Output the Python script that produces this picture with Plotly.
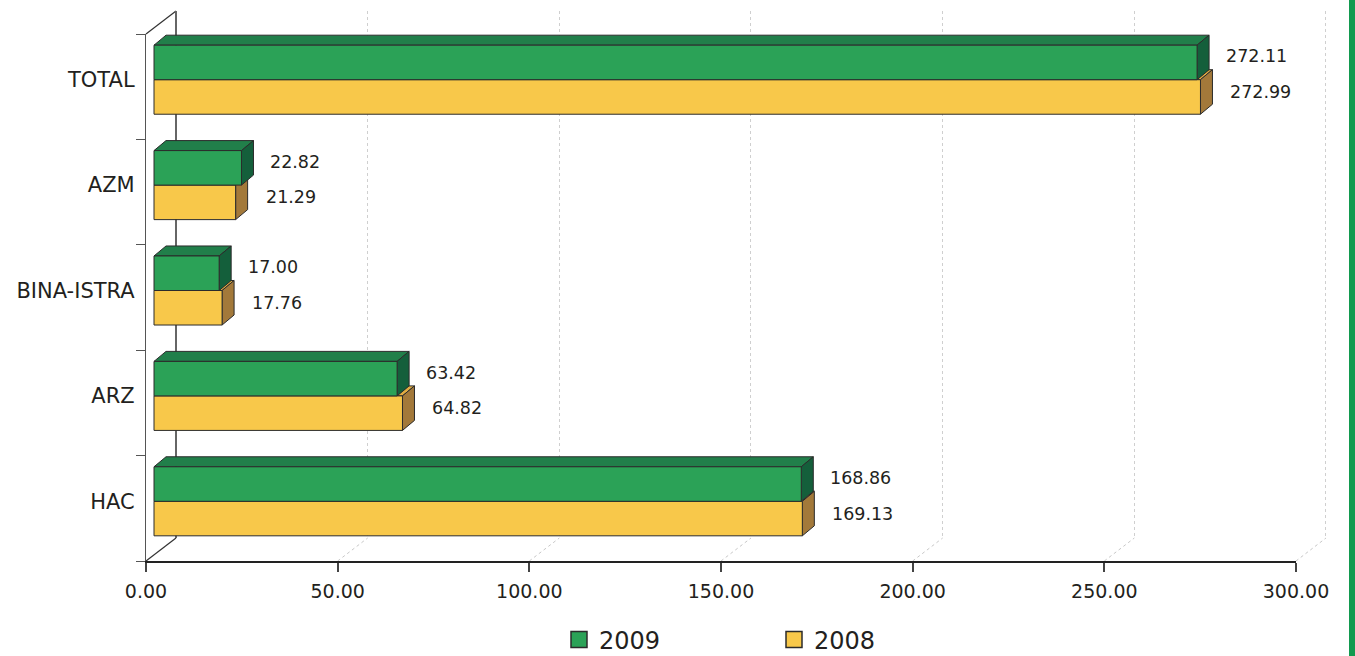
import plotly.graph_objects as go

# ---------------- data ----------------
categories = ["HAC", "ARZ", "BINA-ISTRA", "AZM", "TOTAL"]   # bottom -> top
values_2009 = [168.86, 63.42, 17.00, 22.82, 272.11]
values_2008 = [169.13, 64.82, 17.76, 21.29, 272.99]
series_names = ["2009", "2008"]
x_ticks = [0, 50, 100, 150, 200, 250, 300]

# ---------------- geometry (pixels) ----------------
W, H = 1355, 656
def px(x): return x / W
def py(y): return 1 - y / H

FX0, FX1 = 146, 1296          # front plane x for 0 and 300
FY0, FY1 = 34, 561            # front plane top / bottom
BACK_DX, BACK_DY = 30, 23     # back wall offset
BAR_DX, BAR_DY = 8, 7         # bar plane offset
DEP_DX, DEP_DY = 12, 10       # bar thickness

XMAX = x_ticks[-1]
YMIN, YMAX = -0.5, len(categories) - 0.5
ux = (FX1 - FX0) / XMAX
uy = (FY1 - FY0) / (YMAX - YMIN)
ddx = DEP_DX / ux
ddy = DEP_DY / uy
bw = 0.3275

GREEN, GREEN_TOP, GREEN_SIDE = "#2ba257", "#217f4a", "#145f3b"
YELLOW, YELLOW_TOP, YELLOW_SIDE = "#f8c84a", "#e0ac42", "#a3793a"
EDGE = "#2b2b2b"
FONT = "DejaVu Sans"
TXT = "#231f20"

fig = go.Figure()

# empty traces so that the back-wall and front-axis subplots are created
fig.add_trace(go.Scatter(x=[], y=[], xaxis="x", yaxis="y", showlegend=False, hoverinfo="skip"))
fig.add_trace(go.Scatter(x=[], y=[], xaxis="x2", yaxis="y2", showlegend=False, hoverinfo="skip"))

# ---------- 3D faces (top / side) on x3y3 ----------
def faces(vals, lo, hi):
    tx, ty, sx, sy = [], [], [], []
    for i, v in enumerate(vals):
        yb, yt = i + lo, i + hi
        tx += [0, v, v + ddx, ddx, 0, None]
        ty += [yt, yt, yt + ddy, yt + ddy, yt, None]
        sx += [v, v + ddx, v + ddx, v, v, None]
        sy += [yb, yb + ddy, yt + ddy, yt, yb, None]
    return tx, ty, sx, sy

ytx, yty, ysx, ysy = faces(values_2008, -bw, 0)
gtx, gty, gsx, gsy = faces(values_2009, 0, bw)
for fx, fy, col in [(ytx, yty, YELLOW_TOP), (ysx, ysy, YELLOW_SIDE),
                    (gtx, gty, GREEN_TOP), (gsx, gsy, GREEN_SIDE)]:
    fig.add_trace(go.Scatter(x=fx, y=fy, mode="lines", fill="toself", fillcolor=col,
                             line=dict(color=EDGE, width=1), hoverinfo="skip",
                             showlegend=False, xaxis="x3", yaxis="y3"))

# ---------- front faces: bars on x4y4 ----------
pos = list(range(len(categories)))
fig.add_trace(go.Bar(x=values_2008, y=pos, orientation="h", width=bw, offset=-bw,
                     marker=dict(color=YELLOW, line=dict(color=EDGE, width=1)),
                     name=series_names[1], showlegend=False, xaxis="x4", yaxis="y4"))
fig.add_trace(go.Bar(x=values_2009, y=pos, orientation="h", width=bw, offset=0,
                     marker=dict(color=GREEN, line=dict(color=EDGE, width=1)),
                     name=series_names[0], showlegend=False, xaxis="x4", yaxis="y4"))

# legend entries
for nm, col in [(series_names[0], GREEN), (series_names[1], YELLOW)]:
    fig.add_trace(go.Scatter(x=[None], y=[None], mode="markers", name=nm,
                             marker=dict(symbol="square", size=16, color=col,
                                         line=dict(color=EDGE, width=1.5)),
                             xaxis="x4", yaxis="y4"))

# value labels
ann = []
for i, v in enumerate(values_2009):
    ann.append(dict(x=v, y=i + bw / 2, xref="x4", yref="y4", text=f"{v:.2f}",
                    showarrow=False, xanchor="left", xshift=27, yshift=6,
                    font=dict(family=FONT, size=17.5, color=TXT)))
for i, v in enumerate(values_2008):
    ann.append(dict(x=v, y=i - bw / 2, xref="x4", yref="y4", text=f"{v:.2f}",
                    showarrow=False, xanchor="left", xshift=28, yshift=5,
                    font=dict(family=FONT, size=17.5, color=TXT)))

# ---------- decorative 3D frame ----------
shapes = []
def line(x0, y0, x1, y1, color, width=1.2, dash="solid"):
    shapes.append(dict(type="line", xref="paper", yref="paper", layer="below",
                       x0=px(x0), y0=py(y0), x1=px(x1), y1=py(y1),
                       line=dict(color=color, width=width, dash=dash)))
line(FX0, FY0, FX0 + BACK_DX, FY0 - BACK_DY, "#333333")
for v in x_ticks:
    xf = FX0 + v * ux
    if v == 0:
        line(xf, FY1, xf + BACK_DX, FY1 - BACK_DY, "#333333")
    else:
        line(xf, FY1, xf + BACK_DX, FY1 - BACK_DY, "#c8c8c8", 1, "dot")
shapes.append(dict(type="rect", xref="paper", yref="paper", x0=px(1349), x1=1,
                   y0=0, y1=1, line=dict(width=0), fillcolor="#129a4f"))

# bar plane x range (slightly padded so outlines are not clipped)
bx0, bx1 = -2, XMAX + 10
bar_dom_x = [px(FX0 + BAR_DX + bx0 * ux), px(FX0 + BAR_DX + bx1 * ux)]
bar_dom_y = [py(FY1 - BAR_DY), py(FY0 - BAR_DY)]
hidden = dict(visible=False, fixedrange=True)

# back wall range padded
wx0, wx1 = -1, XMAX + 1
fig.update_layout(
    width=W, height=H,
    margin=dict(l=0, r=0, t=0, b=0, autoexpand=False),
    paper_bgcolor="white", plot_bgcolor="rgba(0,0,0,0)",
    barmode="overlay",
    font=dict(family=FONT, color=TXT),
    # back wall
    xaxis=dict(domain=[px(FX0 + BACK_DX + wx0 * ux), px(FX0 + BACK_DX + wx1 * ux)],
               range=[wx0, wx1], anchor="y", tickvals=x_ticks, showticklabels=False,
               ticks="", showgrid=True, gridcolor="#cfcfcf", griddash="dot", gridwidth=1,
               zeroline=True, zerolinecolor="#666666", zerolinewidth=1.5,
               showline=False, fixedrange=True),
    yaxis=dict(domain=[py(FY1 - BACK_DY), py(FY0 - BACK_DY)], range=[0, 1], anchor="x",
               showticklabels=False, showgrid=False, zeroline=False, showline=False,
               ticks="", fixedrange=True),
    # front axes
    xaxis2=dict(domain=[px(FX0), px(FX1)], range=[0, XMAX], anchor="y2",
                tickvals=x_ticks, tickformat=".2f", ticks="outside", ticklen=9,
                tickcolor="#444444", tickwidth=1.5, showgrid=False, zeroline=False,
                showline=True, linecolor="#222222", linewidth=1.5, ticklabelstandoff=3,
                tickfont=dict(family=FONT, size=19, color=TXT), fixedrange=True),
    yaxis2=dict(domain=[py(FY1), py(FY0)], range=[YMIN, YMAX], anchor="x2",
                tickmode="array", tickvals=pos, ticktext=categories, ticks="",
                ticklabelshift=-BAR_DY, ticklabelstandoff=6,
                showgrid=False, zeroline=False, showline=True,
                linecolor="#555555", linewidth=1.3,
                tickfont=dict(family=FONT, size=21, color=TXT),
                minor=dict(tickmode="array", tickvals=[k + 0.5 for k in range(-1, len(categories))],
                           ticks="outside", ticklen=9, tickcolor="#555555", tickwidth=1.3,
                           showgrid=False),
                fixedrange=True),
    # faces
    xaxis3=dict(domain=bar_dom_x, range=[bx0, bx1], anchor="y3", **hidden),
    yaxis3=dict(domain=bar_dom_y, range=[YMIN, YMAX], anchor="x3", **hidden),
    # bars
    xaxis4=dict(domain=bar_dom_x, range=[bx0, bx1], anchor="y4", **hidden),
    yaxis4=dict(domain=bar_dom_y, range=[YMIN, YMAX], anchor="x4", **hidden),
    legend=dict(orientation="h", x=px(559), xanchor="left", y=py(640), yanchor="middle",
                font=dict(family=FONT, size=24, color=TXT), entrywidth=170,
                entrywidthmode="pixels", bgcolor="rgba(0,0,0,0)", traceorder="normal"),
    shapes=shapes,
    annotations=ann,
    showlegend=True,
)

fig.write_html("out.html")
